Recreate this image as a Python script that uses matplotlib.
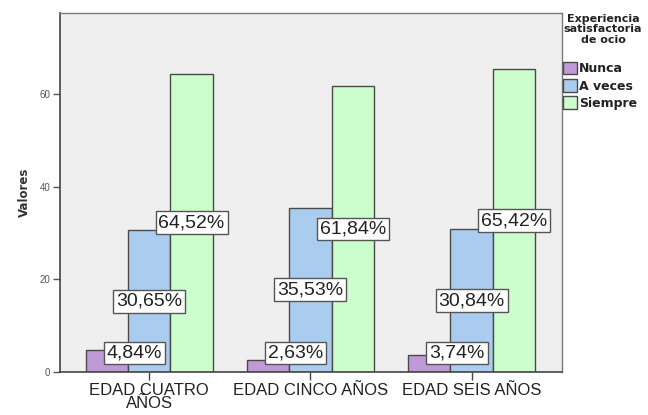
import matplotlib.pyplot as plt
import numpy as np

plt.rcParams['font.family'] = ['Liberation Sans', 'DejaVu Sans']

grupos = ['EDAD CUATRO\nAÑOS', 'EDAD CINCO AÑOS', 'EDAD SEIS AÑOS']
series = ['Nunca', 'A veces', 'Siempre']
nunca = [4.84, 2.63, 3.74]
a_veces = [30.65, 35.53, 30.84]
siempre = [64.52, 61.84, 65.42]
colores = ['#C09AD6', '#AACDEF', '#CCFDCC']

fig = plt.figure(figsize=(6.48, 4.15), dpi=100)
ax = fig.add_axes([60 / 648, 43 / 415, 502 / 648, 359 / 415])
ax.set_facecolor('#EFEFEF')

x = np.arange(len(grupos))
w = 0.263
for i, (vals, col, nombre) in enumerate(zip([nunca, a_veces, siempre], colores, series)):
    pos = x + (i - 1) * w
    ax.bar(pos, vals, width=w, color=col, edgecolor='#4a4a4a', linewidth=1.0, label=nombre, zorder=2)
    for px, v in zip(pos, vals):
        etiqueta = f'{v:.2f}%'.replace('.', ',')
        caja = dict(boxstyle='square,pad=0.15', fc='white', ec='#555555', lw=1.0)
        if v / 2 < 4.1:
            # small bars: label sits beside the bar, just above the axis
            ax.text(px, 4.1, etiqueta, ha='left', va='center', fontsize=14, color='#222222',
                    bbox=caja, zorder=4)
        else:
            ax.text(px, v / 2, etiqueta, ha='center', va='center', fontsize=14, color='#222222',
                    bbox=caja, zorder=4)

ax.set_xlim(-0.553, 2.56)
ax.set_ylim(0, 77.6)
ax.set_yticks([0, 20, 40, 60])
ax.set_xticks(x)
ax.set_xticklabels(grupos, fontsize=12, color='#222222', linespacing=0.8)
ax.tick_params(axis='y', labelsize=7, colors='#555555', length=5, width=1, pad=2)
ax.tick_params(axis='x', length=6, width=1, color='#444444', pad=2)
ax.set_ylabel('Valores', fontsize=8.5, fontweight='bold', color='#333333', labelpad=6,
              family='DejaVu Sans')

for lado in ['left', 'bottom']:
    ax.spines[lado].set_color('#444444')
    ax.spines[lado].set_linewidth(1.2)
for lado in ['top', 'right']:
    ax.spines[lado].set_color('#7a7a7a')
    ax.spines[lado].set_linewidth(1.0)

# legend title drawn centred above the entries
fig.text(603 / 648, 1 - 14 / 415, 'Experiencia\nsatisfactoria\nde ocio', ha='center', va='top',
         fontsize=8, fontweight='bold', family='DejaVu Sans', color='#222222', linespacing=1.05)
leg = fig.legend(loc='upper left', bbox_to_anchor=(563 / 648, 1 - 62 / 415), frameon=False,
                 prop={'size': 9, 'weight': 'bold', 'family': 'DejaVu Sans'},
                 handlelength=1.1, handleheight=1.15, handletextpad=0.15, labelspacing=0.3,
                 borderaxespad=0, borderpad=0)
for t in leg.get_texts():
    t.set_color('#222222')

fig.savefig('out.png', dpi=100)
